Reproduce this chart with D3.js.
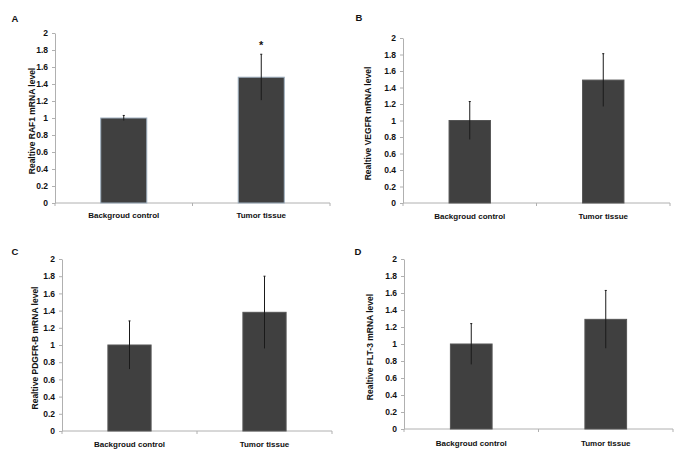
<!DOCTYPE html>
<html>
<head>
<meta charset="utf-8">
<script src="https://cdn.jsdelivr.net/npm/d3@7"></script>
<style>
  html, body { margin: 0; padding: 0; background: #fff; }
  svg { display: block; }
  text { font-family: "Liberation Sans", Arial, sans-serif; font-weight: bold; fill: #111; }
</style>
</head>
<body>
<svg id="chart" width="692" height="462"></svg>
<script>
// ---- data ----
const categories = ["Backgroud control", "Tumor tissue"];
const panelLabels = ["A", "B", "C", "D"];
const yTitles = [
  "Realtive RAF1 mRNA level",
  "Realtive VEGFR mRNA level",
  "Realtive PDGFR-B mRNA level",
  "Realtive FLT-3 mRNA level"
];
const meanRAF1 = [1.0, 1.48];
const errRAF1 = [0.03, 0.27];
const meanVEGFR = [1.0, 1.49];
const errVEGFR = [0.23, 0.32];
const meanPDGFR = [1.0, 1.38];
const errPDGFR = [0.28, 0.42];
const meanFLT3 = [1.0, 1.29];
const errFLT3 = [0.24, 0.34];
const significance = [["", "*"], ["", ""], ["", ""], ["", ""]];
const yTickValues = [0, 0.2, 0.4, 0.6, 0.8, 1, 1.2, 1.4, 1.6, 1.8, 2];
const yTickLabels = ["0", "0.2", "0.4", "0.6", "0.8", "1", "1.2", "1.4", "1.6", "1.8", "2"];

const means = [meanRAF1, meanVEGFR, meanPDGFR, meanFLT3];
const errs = [errRAF1, errVEGFR, errPDGFR, errFLT3];

// ---- layout (positions only) ----
const layout = [
  { x0: 55,  x1: 330, yTop: 33,  yBot: 203, pad: 0.665, titleX: 32,  labX: 15,  labY: 22,  catY: 218, stroke: "#9fb0c0" },
  { x0: 403, x1: 670, yTop: 38,  yBot: 203, pad: 0.69,  titleX: 368, labX: 359, labY: 21,  catY: 219, stroke: "#555" },
  { x0: 62,  x1: 332, yTop: 259, yBot: 431, pad: 0.68,  titleX: 35,  labX: 15,  labY: 255, catY: 447, stroke: "#555" },
  { x0: 404, x1: 673, yTop: 259, yBot: 429, pad: 0.69,  titleX: 370, labX: 358, labY: 255, catY: 446, stroke: "#555" }
];

const svg = d3.select("#chart");
const axisColor = "#b0b0b0";

layout.forEach((L, i) => {
  const g = svg.append("g");
  const x = d3.scaleBand().domain(categories).range([L.x0, L.x1])
    .paddingInner(L.pad).paddingOuter(L.pad / 2);
  const y = d3.scaleLinear().domain([0, 2]).range([L.yBot, L.yTop]);

  // y axis
  const yAxis = d3.axisLeft(y).tickValues(yTickValues)
    .tickFormat((d, k) => yTickLabels[k]).tickSize(3).tickSizeOuter(0).tickPadding(4);
  const ya = g.append("g").attr("transform", `translate(${L.x0},0)`).call(yAxis);
  ya.select(".domain").attr("stroke", axisColor);
  ya.selectAll(".tick line").attr("stroke", axisColor);
  ya.selectAll(".tick text").attr("font-size", 8.5).attr("font-family", "Liberation Sans, Arial, sans-serif")
    .attr("font-weight", "bold").attr("fill", "#111");

  // x axis line with boundary ticks
  g.append("line").attr("x1", L.x0).attr("x2", L.x1).attr("y1", L.yBot).attr("y2", L.yBot)
    .attr("stroke", axisColor);
  const step = x.step();
  const bounds = d3.range(categories.length + 1).map(k => L.x0 + k * step);
  g.selectAll(".xt").data(bounds).join("line")
    .attr("x1", d => d).attr("x2", d => d).attr("y1", L.yBot).attr("y2", L.yBot + 3)
    .attr("stroke", axisColor);

  // category labels
  g.selectAll(".cat").data(categories).join("text")
    .attr("x", d => x(d) + x.bandwidth() / 2).attr("y", L.catY)
    .attr("text-anchor", "middle").attr("font-size", 8).text(d => d);

  // bars
  g.selectAll(".bar").data(categories).join("rect")
    .attr("x", d => x(d)).attr("width", x.bandwidth())
    .attr("y", (d, k) => y(means[i][k])).attr("height", (d, k) => y(0) - y(means[i][k]))
    .attr("fill", "#404040").attr("stroke", L.stroke).attr("stroke-width", 1);

  // error bars
  g.selectAll(".err").data(categories).join("line")
    .attr("x1", d => x(d) + x.bandwidth() / 2).attr("x2", d => x(d) + x.bandwidth() / 2)
    .attr("y1", (d, k) => y(means[i][k] + errs[i][k]))
    .attr("y2", (d, k) => y(means[i][k] - errs[i][k]))
    .attr("stroke", "#1a1a1a").attr("stroke-width", 1);
  g.selectAll(".cap").data(categories).join("line")
    .attr("x1", d => x(d) + x.bandwidth() / 2 - 1).attr("x2", d => x(d) + x.bandwidth() / 2 + 1)
    .attr("y1", (d, k) => y(means[i][k] + errs[i][k]))
    .attr("y2", (d, k) => y(means[i][k] + errs[i][k]))
    .attr("stroke", "#1a1a1a").attr("stroke-width", 1);

  // significance
  g.selectAll(".sig").data(categories).join("text")
    .attr("x", d => x(d) + x.bandwidth() / 2)
    .attr("y", (d, k) => y(means[i][k] + errs[i][k]) - 5)
    .attr("text-anchor", "middle").attr("font-size", 11).text((d, k) => significance[i][k]);

  // y title
  g.append("text")
    .attr("transform", `translate(${L.titleX},${(L.yTop + L.yBot) / 2 + 3}) rotate(-90)`)
    .attr("text-anchor", "middle").attr("font-size", 8.5).attr("dy", "0.35em").text(yTitles[i]);

  // panel label
  g.append("text").attr("x", L.labX).attr("y", L.labY).attr("text-anchor", "middle")
    .attr("font-size", 9.5).text(panelLabels[i]);
});
</script>
</body>
</html>
